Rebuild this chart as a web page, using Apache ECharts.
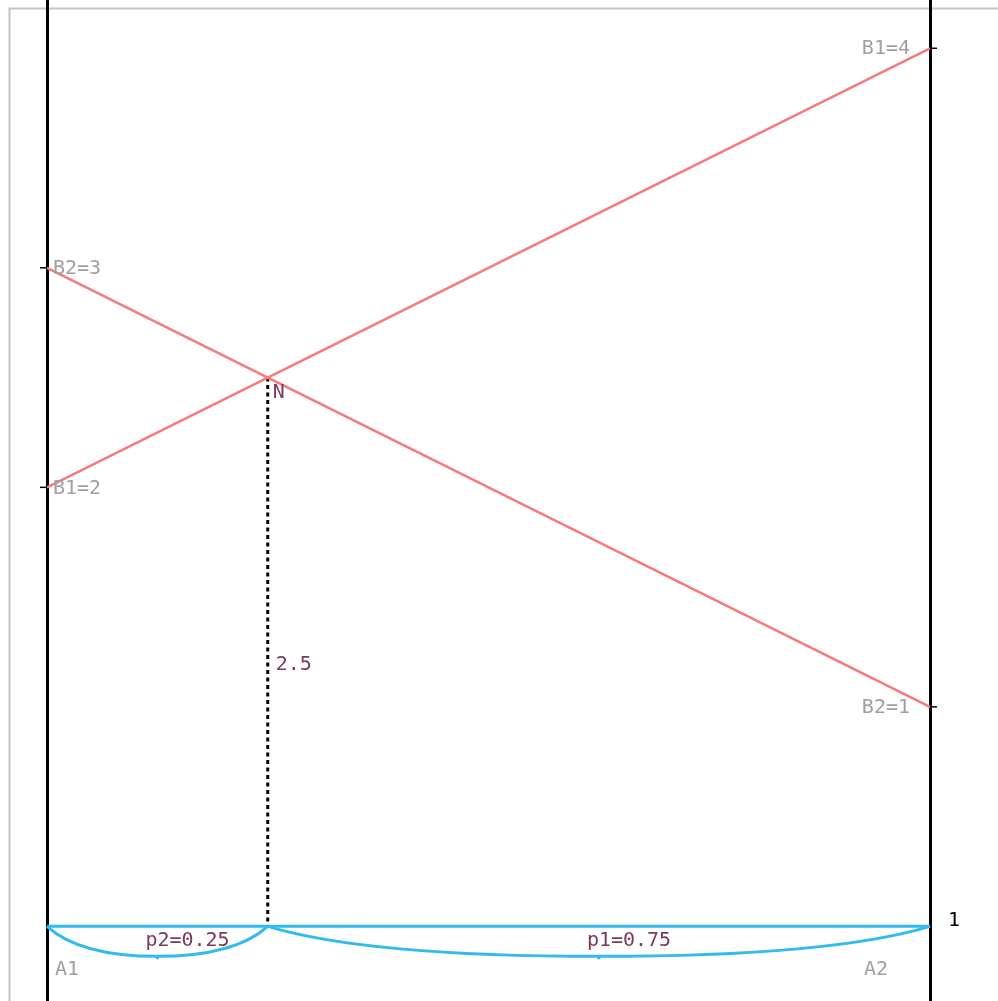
<!DOCTYPE html>
<html><head><meta charset="utf-8">
<script src="https://cdn.jsdelivr.net/npm/echarts@6/dist/echarts.min.js"></script>
<style>html,body{margin:0;padding:0;background:#fff;overflow:hidden}#c{width:998px;height:1001px}</style>
</head><body><div id="c"></div>
<script>
// ---- data ----
const strategyX = [0, 1];
const strategyNames = ['A1', 'A2'];
const payoffB1 = [2, 4];
const payoffB2 = [3, 1];
const nashP = 0.25;
const nashValue = 2.5;
const nashName = 'N';
const probLabels = ['p2=0.25', 'p1=0.75'];
const baseValue = 0;
const baseLabel = '1';

// ---- styles ----
const FONT = 'DejaVu Sans Mono';
const FS = 20;
const GRAY = '#a0a0a0';
const MAROON = '#7b3a5c';
const RED = '#f67a7a';
const BLUE = '#33bbee';

const chart = echarts.init(document.getElementById('c'), null, {renderer: 'canvas'});

const endPoints = [
  [strategyX[0], payoffB1[0], 'B1=' + payoffB1[0], 'L'],
  [strategyX[0], payoffB2[0], 'B2=' + payoffB2[0], 'L'],
  [strategyX[1], payoffB1[1], 'B1=' + payoffB1[1], 'R'],
  [strategyX[1], payoffB2[1], 'B2=' + payoffB2[1], 'R']
];
const segments = [
  [strategyX[0], nashP, probLabels[0]],
  [nashP, strategyX[1], probLabels[1]]
];

const option = {
  animation: false,
  backgroundColor: '#fff',
  grid: {left: 47, right: 68, top: 0, bottom: 0},
  xAxis: {type: 'value', min: 0, max: 1, show: false},
  yAxis: [
    {type: 'value', min: -0.34, max: 4.22, position: 'left',
     axisLine: {show: true, onZero: false, lineStyle: {color: '#000', width: 3}},
     axisTick: {show: false}, axisLabel: {show: false}, splitLine: {show: false}},
    {type: 'value', min: -0.34, max: 4.22, position: 'right',
     axisLine: {show: true, onZero: false, lineStyle: {color: '#000', width: 3}},
     axisTick: {show: false}, axisLabel: {show: false}, splitLine: {show: false}}
  ],
  graphic: [{
    type: 'rect', left: 7, top: 6, z: -10,
    shape: {width: 1200, height: 1200},
    style: {fill: 'none', stroke: '#c4c4c4', lineWidth: 2}
  }],
  series: [
    {type: 'line', name: 'B1', data: strategyX.map((x, i) => [x, payoffB1[i]]),
     showSymbol: false, lineStyle: {color: RED, width: 2.5}, z: 3},
    {type: 'line', name: 'B2', data: strategyX.map((x, i) => [x, payoffB2[i]]),
     showSymbol: false, lineStyle: {color: RED, width: 2.5}, z: 3},
    {type: 'line', name: 'base', data: strategyX.map(x => [x, baseValue]),
     showSymbol: false, lineStyle: {color: BLUE, width: 3}, z: 3},
    {type: 'line', name: 'drop', data: [[nashP, nashValue], [nashP, baseValue]],
     showSymbol: false, lineStyle: {color: '#000', width: 3, type: [4, 3.5]}, z: 2},
    {type: 'custom', name: 'ends', data: endPoints, z: 5,
     renderItem: function (params, api) {
       const p = api.coord([api.value(0), api.value(1)]);
       const left = endPoints[params.dataIndex][3] === 'L';
       const txt = endPoints[params.dataIndex][2];
       return {type: 'group', children: [
         {type: 'line', shape: left ? {x1: p[0] - 7, y1: p[1], x2: p[0], y2: p[1]} : {x1: p[0], y1: p[1], x2: p[0] + 7, y2: p[1]},
          style: {stroke: '#000', lineWidth: 1.5}},
         {type: 'text', style: {text: txt, x: left ? p[0] + 6 : p[0] - 20, y: p[1] + 1,
          align: left ? 'left' : 'right', verticalAlign: 'middle', font: FS + 'px "' + FONT + '"', fill: GRAY}}
       ]};
     }},
    {type: 'custom', name: 'braces', data: segments, z: 4,
     renderItem: function (params, api) {
       const a = api.coord([api.value(0), baseValue]);
       const b = api.coord([api.value(1), baseValue]);
       const hw = (b[0] - a[0]) / 2, xm = a[0] + hw, y = a[1], d = 30;
       const path = 'M' + a[0] + ' ' + y +
         ' Q' + (a[0] + 0.3 * hw) + ' ' + (y + d) + ' ' + xm + ' ' + (y + d) +
         ' Q' + (b[0] - 0.3 * hw) + ' ' + (y + d) + ' ' + b[0] + ' ' + y +
         ' M' + xm + ' ' + (y + d) + ' L' + xm + ' ' + (y + d + 3);
       return {type: 'group', children: [
         {type: 'path', shape: {pathData: path}, style: {fill: 'none', stroke: BLUE, lineWidth: 3}},
         {type: 'text', style: {text: segments[params.dataIndex][2], x: xm - 12, y: y + 14,
          align: 'left', verticalAlign: 'middle', font: FS + 'px "' + FONT + '"', fill: MAROON}}
       ]};
     }},
    {type: 'custom', name: 'texts', data: [[nashP, nashValue]], z: 6,
     renderItem: function (params, api) {
       const n = api.coord([nashP, nashValue]);
       const mid = api.coord([nashP, nashValue / 2]);
       const s0 = api.coord([strategyX[0], baseValue]);
       const s1 = api.coord([strategyX[1], baseValue]);
       const f = FS + 'px "' + FONT + '"';
       return {type: 'group', children: [
         {type: 'text', style: {text: nashName, x: n[0] + 5, y: n[1] + 5, align: 'left', verticalAlign: 'top', font: f, fill: MAROON}},
         {type: 'text', style: {text: String(nashValue), x: mid[0] + 8, y: mid[1] + 13, align: 'left', verticalAlign: 'middle', font: f, fill: MAROON}},
         {type: 'text', style: {text: strategyNames[0], x: s0[0] + 8, y: s0[1] + 43, align: 'left', verticalAlign: 'middle', font: f, fill: GRAY}},
         {type: 'text', style: {text: strategyNames[1], x: s1[0] - 42, y: s1[1] + 43, align: 'right', verticalAlign: 'middle', font: f, fill: GRAY}},
         {type: 'text', style: {text: baseLabel, x: s1[0] + 18, y: s1[1] - 6, align: 'left', verticalAlign: 'middle', font: f, fill: '#000'}}
       ]};
     }}
  ]
};
chart.setOption(option);
</script></body></html>
